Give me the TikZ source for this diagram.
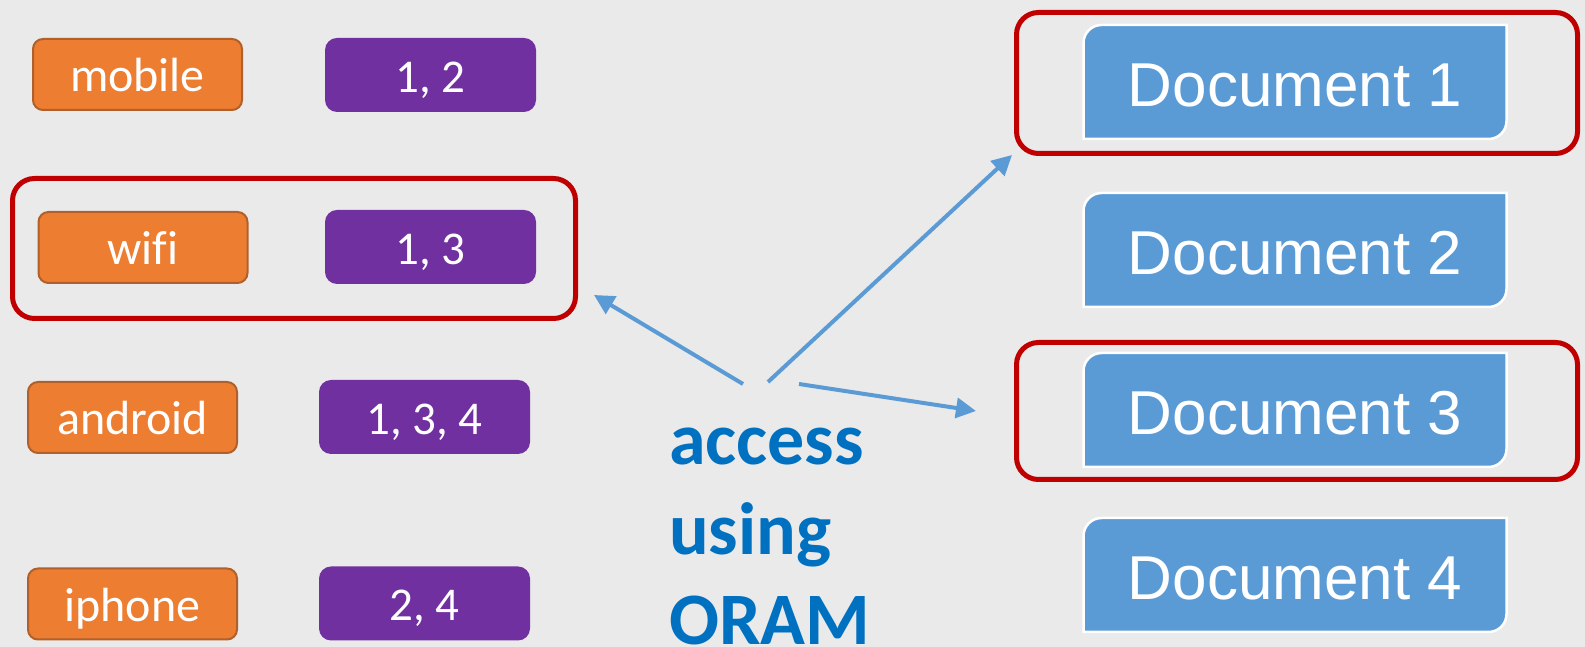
\documentclass[tikz,border=0pt]{standalone}
\usepackage{fontspec}
\setmainfont{Carlito}[Ligatures=NoCommon]
\newfontfamily\docfont{Liberation Sans}
\usetikzlibrary{arrows.meta}

\definecolor{keyorange}{HTML}{ED7D31}
\definecolor{keyborder}{HTML}{B0602A}
\definecolor{idpurple}{HTML}{7030A0}
\definecolor{docblue}{HTML}{5B9BD5}
\definecolor{hitred}{HTML}{C00000}
\definecolor{oramblue}{HTML}{0070C0}
\definecolor{slidegray}{HTML}{EAEAEA}

\begin{document}
\begin{tikzpicture}
        [x=1pt,y=1pt,
        keyword/.style={rectangle,rounded corners=10pt,fill=keyorange,draw=keyborder,line width=2pt,
                minimum width=209pt,minimum height=71pt,inner sep=0pt,text=white,
                font=\fontsize{48}{58}\selectfont,text height=35pt,text depth=0pt},
        idlist/.style={rectangle,rounded corners=12pt,fill=idpurple,
                minimum width=211pt,minimum height=74pt,inner sep=0pt,text=white,
                font=\fontsize{47}{56}\selectfont,text height=35pt,text depth=0pt},
        docshape/.style={fill=docblue,draw=white,line width=2.5pt},
        document/.style={rectangle,minimum width=426pt,minimum height=117pt,inner sep=0pt,text=white,
                font=\docfont\fontsize{62}{74}\selectfont,text height=50pt,text depth=0pt},
        hit/.style={rectangle,draw=hitred,line width=5pt,rounded corners=22pt},
        fetch/.style={draw=docblue,line width=4pt,-{Triangle[length=20pt,width=20pt]}}]

        \fill[slidegray] (0,0) rectangle (1585,647);
        \useasboundingbox (0,0) rectangle (1585,647);

        \node[keyword] (mobile) at (137.5,572.5) {mobile};
        \node[keyword] (wifi) at (143,399.5) {wifi};
        \node[keyword] (android) at (132.5,229.5) {android};
        \node[keyword] (iphone) at (132.5,43) {iphone};

        \node[idlist] (ids12) at (430.5,572) {1, 2};
        \node[idlist] (ids13) at (430.5,400) {1, 3};
        \node[idlist] (ids134) at (424.5,230) {1, 3, 4};
        \node[idlist] (ids24) at (424.5,43.5) {2, 4};

        % documents: only top left and bottom right corners are rounded
        \foreach \n/\y in {1/565,2/397,3/237,4/72} {
                \filldraw[docshape] (1083.5,\y-57) -- (1083.5,\y+57-18) arc[start angle=180,end angle=90,radius=18]
                        -- (1506.5,\y+57) -- (1506.5,\y-57+18) arc[start angle=0,end angle=-90,radius=18] -- cycle;
                \node[document] (doc\n) at (1295,\y) {Document \n};
        }

        \node[hit,minimum width=563pt,minimum height=140pt] (hitkw) at (294,398.5) {};
        \node[hit,minimum width=561pt,minimum height=141pt] (hitdoc1) at (1297,564) {};
        \node[hit,minimum width=561pt,minimum height=137pt] (hitdoc3) at (1297,236) {};

        \node[font=\bfseries\fontsize{74}{90}\selectfont,text=oramblue,align=left,anchor=base west,inner sep=0pt]
                (acc) at (669,2) {access\\using\\ORAM};

        \coordinate (from1) at (743,263);
        \coordinate (from2) at (768,265);
        \coordinate (from3) at (799,263);

        \path (from1) edge[fetch] ([shift={(16pt,26pt)}]hitkw.south east);
        \path (from2) edge[fetch] ([shift={(-2pt,1pt)}]hitdoc1.south west);
        \path (from3) edge[fetch] ([xshift=-38pt]hitdoc3.west);

    \end{tikzpicture}
\end{document}
